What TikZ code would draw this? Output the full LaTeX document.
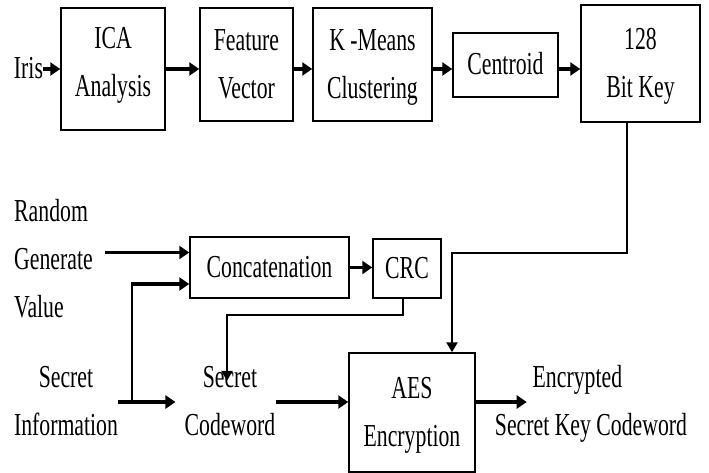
\documentclass[tikz,border=0pt]{standalone}
\usepackage{fontspec}
\setmainfont{Liberation Serif}
\usetikzlibrary{arrows.meta,positioning}
\newcommand\condensed[2][c]{\scalebox{0.68}[1]{\begin{tabular}{@{}#1@{}}#2\end{tabular}}}

\begin{document}
\begin{tikzpicture}[x=1pt,y=-1pt,
       every node/.style={font=\fontsize{32pt}{48pt}\selectfont, inner sep=0pt},
       block/.style 2 args = {rectangle, draw, line width=1.5pt,
                              minimum width=#1, minimum height=#2},
       flow/.style = {line width=3.5pt, -{Triangle[length=10pt,width=13pt]}},
       drop/.style = {line width=2.5pt, -{Triangle[length=10pt,width=11pt]}},
       wire/.style = {line width=1.5pt}]
	\useasboundingbox (0,0) rectangle (709,473);

	%% Key generation chain
	\node [block={104pt}{122pt},text depth=54pt] (ica) at (113,69) {\condensed{ICA\\Analysis}};
	\node [block={93pt}{113pt}] (feat) at (246.5,64.5) {\condensed{Feature\\Vector}};
	\node [block={119pt}{113pt}] (kmeans) at (372.5,64.5) {\condensed{K -Means\\Clustering}};
	\node [block={105pt}{64pt}] (centroid) at (505.5,65) {\condensed{Centroid}};
	\node [block={119pt}{117pt}] (bitkey) at (640.5,63.5) {\condensed{128\\Bit Key}};
	\node (iris) at (28.5,69) {\condensed{Iris}};

	%% Codeword chain
	\node [block={159pt}{61pt}] (concat) at (269.5,267.5) {\condensed{Concatenation}};
	\node [block={68pt}{59pt}] (crc) at (407,268.5) {\condensed{CRC}};
	\node [block={126pt}{119pt}] (aes) at (412,412.5) {\condensed{AES\\Encryption}};
	\node [anchor=west] (rgv) at (14,260) {\condensed[l]{Random\\Generate\\Value}};
	\node (secinfo) at (66,402) {\condensed{Secret\\Information}};
	\node (seccode) at (230,402) {\condensed{Secret\\Codeword}};
	\node (enc) at (591,402) {\condensed{Encrypted\hspace*{40pt}\\Secret Key Codeword}};

	%% Reference points for the bends
	\coordinate (in1) at ([yshift=15pt]concat.west);
	\coordinate (in2) at ([yshift=-16.5pt]concat.west);
	\coordinate (rgvout) at (105,252.5);
	\coordinate (split) at (132,402);
	\coordinate (crcturn) at (227,315);
	\coordinate (keyturn) at (452,253);

	%% Simple paths
	\draw[flow] (iris) -- (ica);
	\draw[flow] (ica) -- (ica -| feat.west);
	\draw[flow] (ica -| feat.east) -- (ica -| kmeans.west);
	\draw[flow] (ica -| kmeans.east) -- (ica -| centroid.west);
	\draw[flow] (ica -| centroid.east) -- (ica -| bitkey.west);
	\draw[flow] (rgvout) -- (in1);
	\draw[flow] (concat.east) -- (concat.east -| crc.west);
	\draw[flow] (secinfo.east) -- ([xshift=-9pt]seccode.west);
	\draw[flow] (seccode.east) -- (seccode.east -| aes.west);
	\draw[flow] (aes.east |- enc) -- ([xshift=32pt]enc.west);

	%% Complex paths
	\draw[wire] (split) -- ([yshift=-1pt]split |- in2);
	\draw[flow] ([xshift=-1pt]split |- in2) -- (in2);
	\draw[wire] ([xshift=-4pt]crc.south) |- (crcturn);
	\draw[drop] ([yshift=1pt]crcturn) -- ([yshift=-27pt]crcturn |- seccode.north);
	\draw[wire] ([xshift=-13.5pt]bitkey.south) |- (keyturn);
	\draw[drop] ([yshift=1pt]keyturn) -- (keyturn |- aes.north);
\end{tikzpicture}
\end{document}
